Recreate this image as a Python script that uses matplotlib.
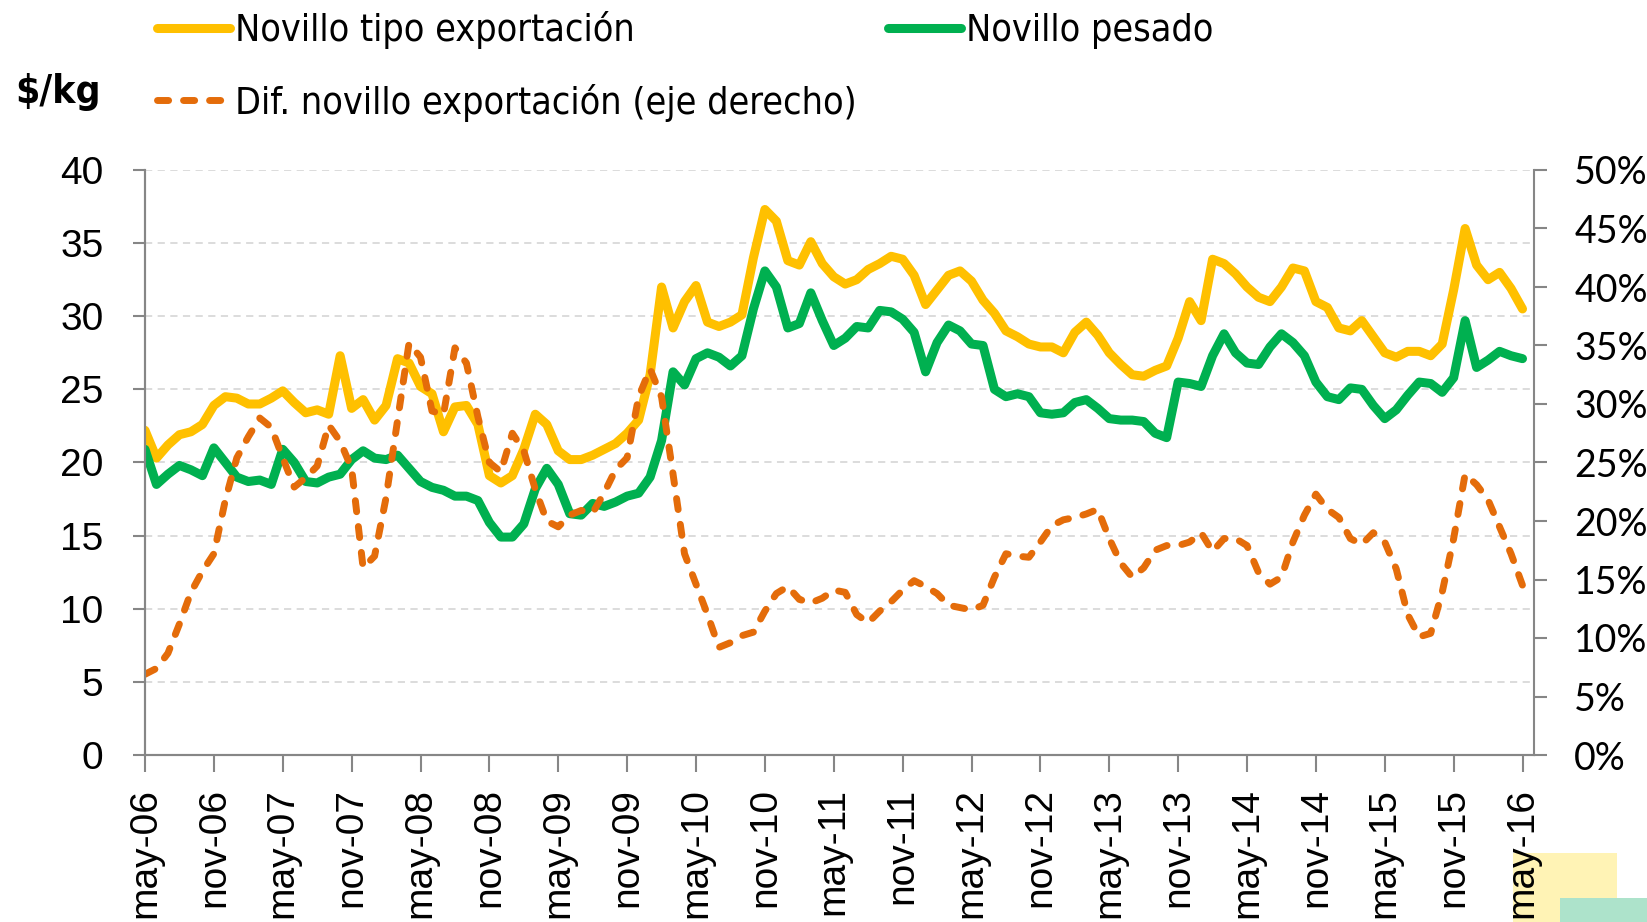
import numpy as np
import matplotlib.pyplot as plt
from matplotlib.patches import Rectangle
from matplotlib.font_manager import FontProperties

# monthly values, may-06 .. may-16
export = [22.2, 20.3, 21.2, 21.9, 22.1, 22.6, 23.9, 24.5, 24.4, 24.0,
          24.0, 24.4, 24.9, 24.1, 23.4, 23.6, 23.3, 27.3, 23.7, 24.3,
          22.9, 23.9, 27.1, 26.8, 25.2, 24.7, 22.1, 23.8, 23.9, 22.6,
          19.1, 18.6, 19.1, 20.9, 23.3, 22.6, 20.8, 20.2, 20.2, 20.5,
          20.9, 21.3, 22.0, 22.9, 26.0, 32.0, 29.2, 31.0, 32.1, 29.6,
          29.3, 29.6, 30.1, 34.0, 37.3, 36.5, 33.8, 33.5, 35.1, 33.6,
          32.7, 32.2, 32.5, 33.2, 33.6, 34.1, 33.9, 32.8, 30.8, 31.8,
          32.8, 33.1, 32.4, 31.1, 30.2, 29.0, 28.6, 28.1, 27.9, 27.9,
          27.5, 28.9, 29.6, 28.7, 27.5, 26.7, 26.0, 25.9, 26.3, 26.6,
          28.5, 31.0, 29.7, 33.9, 33.6, 32.9, 32.0, 31.3, 31.0, 32.0,
          33.3, 33.1, 31.0, 30.6, 29.2, 29.0, 29.7, 28.6, 27.5, 27.2,
          27.6, 27.6, 27.3, 28.1, 31.8, 36.0, 33.5, 32.5, 33.0, 31.9,
          30.5]

pesado = [20.9, 18.5, 19.2, 19.8, 19.5, 19.1, 21.0, 20.0, 19.0, 18.7,
          18.8, 18.5, 20.9, 20.0, 18.7, 18.6, 19.0, 19.2, 20.2, 20.8,
          20.3, 20.2, 20.5, 19.6, 18.7, 18.3, 18.1, 17.7, 17.7, 17.4,
          15.9, 14.9, 14.9, 15.8, 18.2, 19.6, 18.5, 16.5, 16.4, 17.2,
          17.0, 17.3, 17.7, 17.9, 19.0, 21.5, 26.2, 25.3, 27.1, 27.5,
          27.2, 26.6, 27.3, 30.5, 33.1, 32.0, 29.2, 29.5, 31.6, 29.7,
          28.0, 28.5, 29.3, 29.2, 30.4, 30.3, 29.8, 28.9, 26.2, 28.2,
          29.4, 29.0, 28.1, 28.0, 25.0, 24.5, 24.7, 24.5, 23.4, 23.3,
          23.4, 24.1, 24.3, 23.7, 23.0, 22.9, 22.9, 22.8, 22.0, 21.7,
          25.5, 25.4, 25.2, 27.3, 28.8, 27.5, 26.8, 26.7, 27.9, 28.8,
          28.2, 27.3, 25.5, 24.5, 24.3, 25.1, 25.0, 23.9, 23.0, 23.6,
          24.6, 25.5, 25.4, 24.8, 25.8, 29.7, 26.5, 27.0, 27.6, 27.3,
          27.1]

dif_pct = [6.9, 7.4, 8.7, 11.2, 13.9, 15.7, 17.2, 21.8, 25.4, 27.2,
           28.8, 28.0, 25.4, 22.9, 23.7, 24.7, 28.2, 26.8, 24.5, 16.0,
           17.0, 22.0, 28.6, 35.2, 34.0, 29.4, 29.1, 34.8, 33.5, 28.9,
           25.0, 24.2, 27.5, 26.0, 22.7, 20.0, 19.5, 20.5, 20.9, 20.7,
           22.4, 24.4, 25.4, 30.6, 33.0, 30.6, 24.0, 17.2, 14.6, 12.0,
           9.2, 9.6, 10.2, 10.5, 12.3, 13.8, 14.4, 13.3, 13.0, 13.4,
           14.1, 13.9, 12.0, 11.3, 12.3, 13.1, 14.1, 14.9, 14.4, 13.8,
           12.8, 12.6, 12.4, 12.8, 15.2, 17.2, 17.0, 16.9, 18.2, 19.6,
           20.1, 20.3, 20.6, 21.0, 18.5, 16.4, 15.2, 16.0, 17.5, 17.9,
           17.9, 18.2, 19.0, 17.4, 18.5, 18.5, 17.9, 15.6, 14.6, 15.2,
           18.2, 20.5, 22.3, 21.0, 20.3, 18.5, 18.0, 19.0, 18.2, 15.9,
           12.0, 10.1, 10.4, 13.9, 18.5, 24.0, 23.1, 21.8, 19.5, 17.2,
           14.5]

tick_labels = ['may-06', 'nov-06', 'may-07', 'nov-07', 'may-08', 'nov-08',
               'may-09', 'nov-09', 'may-10', 'nov-10', 'may-11', 'nov-11',
               'may-12', 'nov-12', 'may-13', 'nov-13', 'may-14', 'nov-14',
               'may-15', 'nov-15', 'may-16']

labels = ['Novillo tipo exportación', 'Novillo pesado',
          'Dif. novillo exportación (eje derecho)']


def main():
    plt.rcParams['font.family'] = ['Liberation Sans', 'DejaVu Sans']
    W, H = 1647, 922
    grey = '#868686'

    fig = plt.figure(figsize=(W / 100, H / 100), dpi=100)
    ax = fig.add_axes([145 / W, 1 - 755 / H, (1534 - 145) / W, (755 - 170) / H])
    ax2 = ax.twinx()

    x = np.arange(len(export))
    ln1, = ax.plot(x, export, color='#FFC000', lw=6.5,
                   solid_joinstyle='round', solid_capstyle='round')
    ln2, = ax.plot(x, pesado, color='#00B050', lw=6.5,
                   solid_joinstyle='round', solid_capstyle='round')
    ln3, = ax2.plot(x, dif_pct, color='#E46C0A', lw=5,
                    ls=(0, (1.6, 2.15)), dash_capstyle='round',
                    dash_joinstyle='round')

    ax.set_xlim(0, 121)
    ax.set_ylim(0, 40)
    ax2.set_ylim(0, 50)
    ax.set_yticks(range(0, 41, 5))
    ax2.set_yticks(range(0, 51, 5))
    ax2.set_yticklabels([f'{v}%' for v in range(0, 51, 5)], family='Lato')
    ax.set_xticks(x[::6])
    ax.set_xticklabels(tick_labels, rotation=90)

    ax.grid(axis='y', color='#D9D9D9', ls=(0, (4, 3)), lw=1.3)
    ax.set_axisbelow(True)

    for a in (ax, ax2):
        a.spines['top'].set_visible(False)
        for s in ('left', 'right', 'bottom'):
            a.spines[s].set_color(grey)
            a.spines[s].set_linewidth(1.5)
    ax.spines['right'].set_visible(False)

    ax.tick_params(axis='x', length=12, width=1.5, color=grey, pad=12, labelsize=28)
    ax.tick_params(axis='y', length=9, width=1.5, color=grey, pad=21, labelsize=28)
    ax2.tick_params(axis='y', length=9, width=1.5, color=grey, pad=20, labelsize=27)

    leg_font = FontProperties(family='DejaVu Sans', stretch='condensed', size=27)
    fig.legend([ln1, ln3, ln2], [labels[0], labels[2], labels[1]], ncol=2,
               loc='upper left', bbox_to_anchor=(157 / W, 1 - 11 / H),
               frameon=False, prop=leg_font, handlelength=1.95,
               handletextpad=0.12, columnspacing=0.85, labelspacing=0.92,
               borderpad=0, borderaxespad=0)

    fig.text(15 / W, 1 - 92 / H, r'\$/kg', ha='left', va='center',
             fontproperties=FontProperties(family='DejaVu Sans', stretch='condensed',
                                           weight='bold', size=28))

    # slide decoration peeking in at the bottom right corner
    fig.add_artist(Rectangle((1513 / W, 0), 104 / W, 69 / H, transform=fig.transFigure,
                             fc='#FFF3B5', ec='none', zorder=-1))
    fig.add_artist(Rectangle((1560 / W, 0), 87 / W, 24 / H, transform=fig.transFigure,
                             fc='#ADE3CB', ec='none', zorder=-1))

    fig.savefig('out.png', dpi=100)


main()
